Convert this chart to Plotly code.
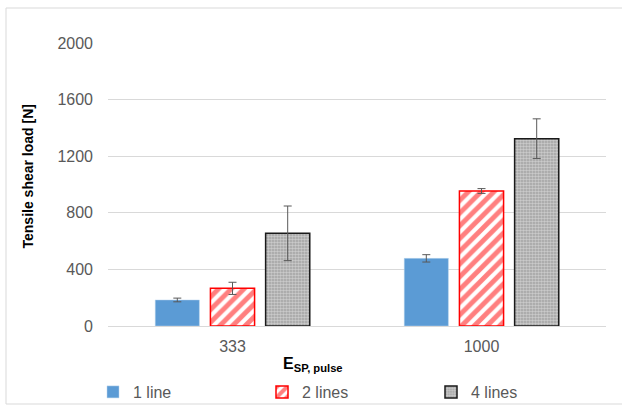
import plotly.graph_objects as go

categories = ["333", "1000"]
series_names = ["1 line", "2 lines", "4 lines"]
vals_1line = [184, 478]
err_1line = [13, 26]
vals_2lines = [266, 954]
err_2lines = [43, 17]
vals_4lines = [655, 1324]
err_4lines = [193, 140]
y_ticks = [0, 400, 800, 1200, 1600, 2000]

FONT = "Liberation Sans, Arial, sans-serif"
TXT = "#595959"
ERRC = "#595959"

fig = go.Figure()
fig.add_trace(go.Bar(
    name=series_names[0], x=categories, y=vals_1line,
    marker=dict(color="#5B9BD5", line=dict(color="#BDD7EE", width=0.5)),
    error_y=dict(type="data", array=err_1line, color=ERRC, thickness=1, width=4),
))
fig.add_trace(go.Bar(
    name=series_names[1], x=categories, y=vals_2lines,
    marker=dict(color="white", line=dict(color="#FF0000", width=1.5),
                pattern=dict(shape="/", fgcolor="#FF0000", bgcolor="white",
                             size=9, solidity=0.55)),
    error_y=dict(type="data", array=err_2lines, color=ERRC, thickness=1, width=4),
))
fig.add_trace(go.Bar(
    name=series_names[2], x=categories, y=vals_4lines,
    marker=dict(color="white", line=dict(color="#1A1A1A", width=1.5),
                pattern=dict(shape=".", fgcolor="#F4F4F4", bgcolor="#A0A0A0",
                             size=3, solidity=0.55)),
    error_y=dict(type="data", array=err_4lines, color=ERRC, thickness=1, width=4),
))

W, H = 622, 406
L, R, T, B = 108, 16, 43, 80
pw, ph = W - L - R, H - T - B

def px(x):
    return (x - L) / pw

def py(y):
    return (H - B - y) / ph

fig.update_layout(
    width=W, height=H,
    margin=dict(l=L, r=R, t=T, b=B, pad=0, autoexpand=False),
    paper_bgcolor="white", plot_bgcolor="white",
    barmode="group", bargap=0.335, bargroupgap=0.2,
    font=dict(family=FONT, size=16, color=TXT),
    showlegend=True,
    legend=dict(orientation="h", x=px(93), y=py(392), xanchor="left", yanchor="middle",
                font=dict(family=FONT, size=16, color=TXT),
                itemwidth=30, entrywidth=124, entrywidthmode="pixels",
                traceorder="normal", bgcolor="rgba(0,0,0,0)"),
    xaxis=dict(type="category", range=[-0.5, 1.5], showgrid=False, automargin=False,
               showline=True, linecolor="#D9D9D9", linewidth=1, ticklabelstandoff=6,
               ticks="", tickfont=dict(family=FONT, size=16, color=TXT), fixedrange=True),
    yaxis=dict(range=[0, 2000], tickvals=y_ticks, showgrid=True, gridcolor="#D9D9D9",
               gridwidth=1, zeroline=False, showline=False, ticks="", automargin=False,
               tickfont=dict(family=FONT, size=16, color=TXT), ticklabelstandoff=14,
               fixedrange=True),
    annotations=[
        dict(text="<b>Tensile shear load [N]</b>", textangle=-90, xref="paper", yref="paper",
             x=px(27.5), y=py(177), xanchor="center", yanchor="middle", showarrow=False,
             font=dict(family=FONT, size=14, color="black")),
        dict(text="<b>E<sub>SP, pulse</sub></b>", xref="paper", yref="paper",
             x=px(313), y=py(364), xanchor="center", yanchor="middle", showarrow=False,
             font=dict(family=FONT, size=16, color="black")),
    ],
    shapes=[
        dict(type="rect", xref="paper", yref="paper", x0=px(6), x1=px(630), y0=py(404), y1=py(8),
             line=dict(color="#D9D9D9", width=1), fillcolor="rgba(0,0,0,0)", layer="below"),
    ],
)

fig.write_html("out.html", config={"displayModeBar": False},
               post_script="document.body.style.margin='0';document.body.style.padding='0';")
